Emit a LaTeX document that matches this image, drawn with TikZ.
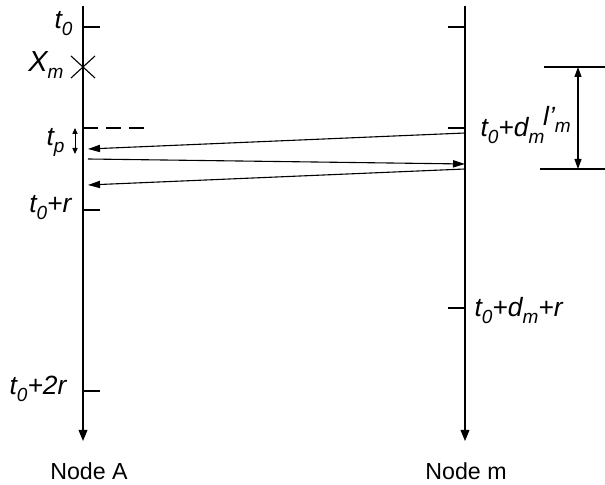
\documentclass[tikz,border=0pt]{standalone}
\usepackage{fontspec}
\setmainfont{Liberation Sans}
\usetikzlibrary{arrows.meta}
\newcommand{\sbs}[1]{\raisebox{-0.5ex}{\fontsize{9.5}{10}\selectfont #1}}
\begin{document}
\begin{tikzpicture}[x=0.5pt,y=-0.5pt,line width=0.55pt,
    lbl/.style={font=\fontsize{13.2}{15}\selectfont\itshape, inner sep=1pt},
    msg/.style={-{Triangle[length=6pt,width=3.6pt]}},
    tline/.style={-{Triangle[length=5.5pt,width=4.4pt]}}]
    \useasboundingbox (0,0) rectangle (605,485);

    % time lines of the two nodes
    \coordinate (A0) at (83,6);
    \coordinate (A1) at (83,441);
    \coordinate (M0) at (465,6);
    \coordinate (M1) at (465,441);
    \draw[tline] (A0) -- (A1);
    \draw[tline] (M0) -- (M1);
    \node[font=\fontsize{11.6}{13}\selectfont] (nodeA) at (89,471) {Node A};
    \node[font=\fontsize{11.6}{13}\selectfont] (nodeM) at (466,471) {Node m};

    \foreach \y in {27,210,391}
        \draw (83,\y) -- (100,\y);
    \foreach \y in {27,128,308}
        \draw (448,\y) -- (465,\y);

    % labels on node A
    \node[lbl,anchor=east] (t0) at (75,24) {t\sbs{0}};
    \node[lbl,anchor=east] (tr) at (74,208) {t\sbs{0}+r};
    \node[lbl,anchor=east] (t2r) at (69,389) {t\sbs{0}+2r};
    \node[lbl,anchor=east,font=\fontsize{14.5}{16}\selectfont\itshape] (xm) at (66,65) {X\sbs{m}};
    \node[lbl,anchor=east] (tp) at (67,142) {t\sbs{p}};

    \coordinate (X) at (83,67);
    \draw (X) +(-12,-11) -- +(12,11);
    \draw (X) +(-12,11) -- +(12,-11);

    \draw[dash pattern=on 7.5pt off 4pt, line width=1.1pt] (83,128) -- (145,128);
    \draw[{Triangle[length=3pt,width=2.6pt]}-{Triangle[length=3pt,width=2.6pt]}, line width=0.5pt]
        (75,128) -- (75,154);

    % messages
    \coordinate (s1) at (465,133);
    \coordinate (e1) at (88,149);
    \coordinate (s2) at (88,159);
    \coordinate (e2) at (465,164);
    \coordinate (s3) at (465,169);
    \coordinate (e3) at (88,185);
    \draw[msg] (s1) -- (e1);
    \draw[msg] (s2) -- (e2);
    \draw[msg] (s3) -- (e3);

    % labels on node m
    \node[lbl,anchor=west] (tdm) at (478,131) {t\sbs{0}+d\sbs{m}};
    \node[lbl,anchor=west] (tdmr) at (472,311) {t\sbs{0}+d\sbs{m}+r};

    % interval l'_m
    \draw (544,67) -- (605,67);
    \draw (540,169) -- (605,169);
    \draw[{Triangle[length=5pt,width=3.5pt]}-{Triangle[length=5pt,width=3.5pt]}] (578,67) -- (578,169);
    \node[lbl] (lm) at (557,119) {l'\sbs{m}};
\end{tikzpicture}
\end{document}
